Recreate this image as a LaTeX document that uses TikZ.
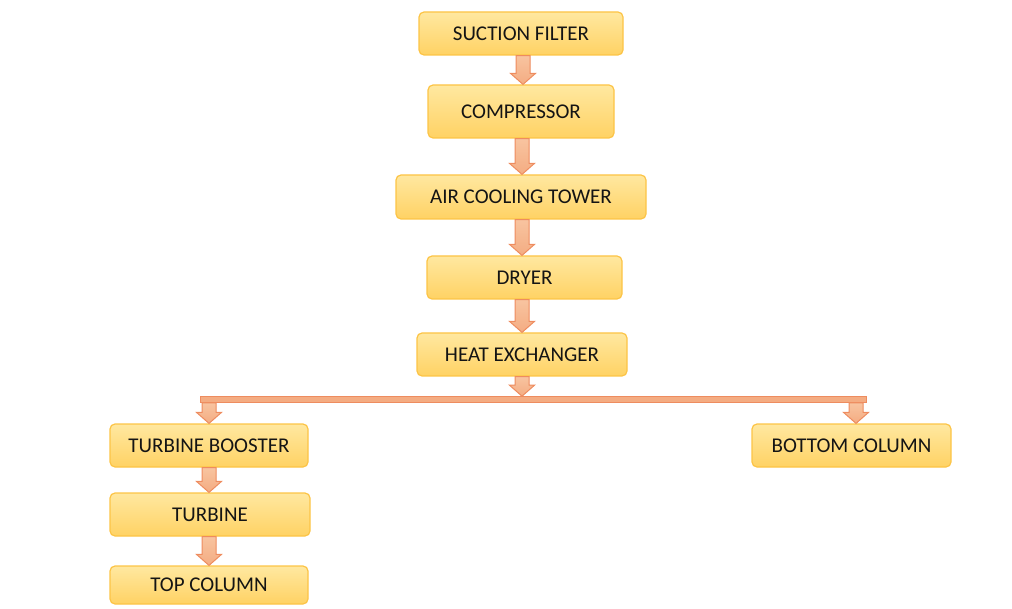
\documentclass[tikz,border=0pt]{standalone}
\usepackage{fontspec}
\setmainfont{Carlito}
\usetikzlibrary{calc}
\definecolor{boxtop}{RGB}{255,232,160}
\definecolor{boxbot}{RGB}{255,210,100}
\definecolor{boxline}{RGB}{252,196,70}
\definecolor{arrfill}{RGB}{244,172,130}
\definecolor{arrtop}{RGB}{248,196,160}
\definecolor{arrline}{RGB}{238,140,95}
\definecolor{txt}{RGB}{20,20,20}
\tikzset{
  stepbox/.style={draw=boxline, line width=1.2pt, rounded corners=5pt,
    top color=boxtop, bottom color=boxbot, inner sep=0pt,
    font=\fontsize{21}{24}\selectfont, text=txt},
  arrowsty/.style={draw=arrline, line width=1pt, top color=arrtop, bottom color=arrfill, line join=miter},
  barsty/.style={draw=arrline, line width=1pt, fill=arrfill, inner sep=0pt, minimum width=666pt, minimum height=5.6pt}
}
\newcommand\blockarrow[3][0pt]{%
  \draw[arrowsty] let \p1=(#2), \p2=(#3) in
    (\x1+#1-7pt,\y1) -- (\x1+#1+7pt,\y1) -- (\x1+#1+7pt,\y2+11pt) --
    (\x1+#1+12.5pt,\y2+11pt) -- (\x1+#1,\y2) -- (\x1+#1-12.5pt,\y2+11pt) --
    (\x1+#1-7pt,\y2+11pt) -- cycle;}
\begin{document}
\begin{tikzpicture}[x=1pt,y=-1pt]
\useasboundingbox (0,0) rectangle (1012,609);
\node[stepbox, minimum width=204pt, minimum height=43pt] (sf) at (521,33.5) {SUCTION FILTER};
\node[stepbox, minimum width=186pt, minimum height=53pt] (comp) at (521,111.5) {COMPRESSOR};
\node[stepbox, minimum width=250pt, minimum height=44pt] (act) at (521,197) {AIR COOLING TOWER};
\node[stepbox, minimum width=195pt, minimum height=43pt] (dry) at (524.5,277.5) {DRYER};
\node[stepbox, minimum width=210pt, minimum height=43pt] (hx) at (522,354.5) {HEAT EXCHANGER};
\node[barsty] (bar) at (533,399.5) {};
\node[stepbox, minimum width=198pt, minimum height=43pt] (tb) at (209,445.5) {TURBINE BOOSTER};
\node[stepbox, minimum width=199pt, minimum height=43pt] (bc) at (851.5,445.5) {BOTTOM COLUMN};
\node[stepbox, minimum width=200pt, minimum height=43pt] (tur) at (210,514.5) {TURBINE};
\node[stepbox, minimum width=198pt, minimum height=38pt] (tc) at (209,585) {TOP COLUMN};
\blockarrow[2pt]{sf.south}{comp.north}
\blockarrow[1pt]{comp.south}{act.north}
\blockarrow[1pt]{act.south}{dry.north}
\blockarrow[-2.5pt]{dry.south}{hx.north}
\blockarrow{hx.south}{bar.north}
\blockarrow{tb.north |- bar.south}{tb.north}
\blockarrow[4.5pt]{bc.north |- bar.south}{bc.north}
\blockarrow{tb.south}{tur.north}
\blockarrow[-1pt]{tur.south}{tc.north}
\end{tikzpicture}
\end{document}
